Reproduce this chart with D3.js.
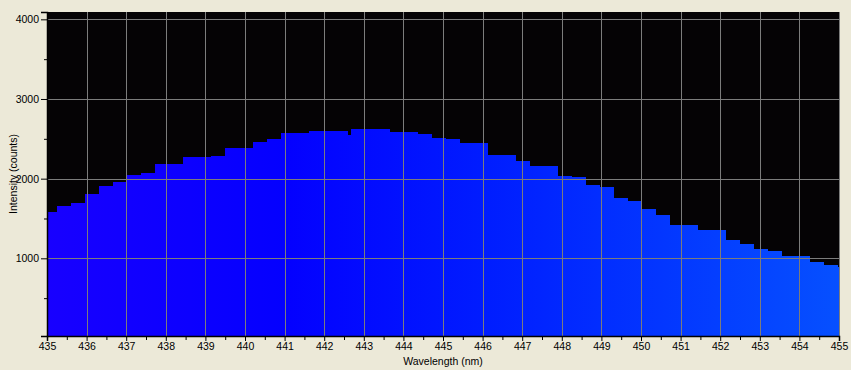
<!DOCTYPE html>
<html>
<head>
<meta charset="utf-8">
<script src="https://cdn.jsdelivr.net/npm/d3@7"></script>
<style>
  body { margin: 0; background: #ece9d8; }
  svg { display: block; }
  text { font-family: "Liberation Sans", Arial, sans-serif; font-size: 10.5px; fill: #000; }
</style>
</head>
<body>
<div id="chart"></div>
<script>
	// left edge (nm) of each spectrometer step
	var wavelengths = [435.00, 435.25, 435.61, 435.96, 436.31, 436.67, 437.02, 437.37, 437.73, 438.08,
		438.43, 438.79, 439.14, 439.49, 439.85, 440.20, 440.56, 440.91, 441.26, 441.62,
		441.97, 442.32, 442.60, 442.68, 443.03, 443.38, 443.66, 444.02, 444.37, 444.72,
		445.08, 445.43, 445.78, 446.14, 446.49, 446.84, 447.20, 447.55, 447.90, 448.26,
		448.61, 448.96, 449.32, 449.67, 450.03, 450.38, 450.73, 451.09, 451.44, 451.79,
		452.15, 452.50, 452.85, 453.21, 453.56, 453.91, 454.27, 454.62, 454.97];
	// intensity (counts) of each step
	var intensities = [1585, 1657, 1694, 1811, 1912, 1962, 2046, 2075, 2188, 2186,
		2276, 2276, 2288, 2389, 2389, 2460, 2498, 2573, 2573, 2598,
		2598, 2598, 2548, 2623, 2623, 2623, 2586, 2586, 2560, 2510,
		2498, 2448, 2448, 2297, 2297, 2222, 2159, 2159, 2033, 2021,
		1920, 1895, 1757, 1720, 1619, 1544, 1418, 1418, 1355, 1355,
		1230, 1180, 1117, 1092, 1029, 1029, 954, 916, 887];

	var xTicks = d3.range(435, 456, 1);
	var xMinorTicks = d3.range(435.5, 455, 1);
	var yTicks = [1000, 2000, 3000, 4000];
	var yMinorTicks = [500, 1500, 2500, 3500];

	var width = 851, height = 370;
	var margin = {top: 12, right: 12, bottom: 34, left: 47};
	var plotW = width - margin.left - margin.right,   // 792
		plotH = height - margin.top - margin.bottom;  // 324

	var svg = d3.select("#chart").append("svg")
		.attr("width", width)
		.attr("height", height);

	var g = svg.append("g")
		.attr("transform", "translate(" + margin.left + "," + margin.top + ")");

	var x = d3.scaleLinear().domain([435, 455]).range([0, plotW]);
	var y = d3.scaleLinear().domain([25, 4092]).range([plotH, 0]);

	var bars = wavelengths.map(function(w, i) {
		return {
			x0: w,
			x1: i < wavelengths.length - 1 ? wavelengths[i + 1] : 455,
			value: intensities[i]
		};
	});

	//spectrum colouring across the wavelength range
	var defs = svg.append("defs");
	var grad = defs.append("linearGradient")
		.attr("id", "spectrum")
		.attr("gradientUnits", "userSpaceOnUse")
		.attr("x1", x(435)).attr("x2", x(455))
		.attr("y1", 0).attr("y2", 0);
	grad.append("stop").attr("offset", "0%").attr("stop-color", "#1800ff");
	grad.append("stop").attr("offset", "30%").attr("stop-color", "#0400ff");
	grad.append("stop").attr("offset", "55%").attr("stop-color", "#001cff");
	grad.append("stop").attr("offset", "100%").attr("stop-color", "#0650ff");

	defs.append("clipPath").attr("id", "plot-clip")
		.append("rect").attr("width", plotW).attr("height", plotH);

	//black plot background
	g.append("rect")
		.attr("width", plotW)
		.attr("height", plotH)
		.style("fill", "#050305");

	//the steps
	g.append("g")
		.attr("clip-path", "url(#plot-clip)")
		.selectAll("rect")
		.data(bars)
		.enter().append("rect")
		.attr("x", function(d) { return x(d.x0); })
		.attr("width", function(d) { return x(d.x1) - x(d.x0); })
		.attr("y", function(d) { return y(d.value); })
		.attr("height", function(d) { return plotH - y(d.value); })
		.attr("shape-rendering", "crispEdges")
		.style("fill", "url(#spectrum)");

	//grid on top of the bars
	var grid = g.append("g").attr("class", "grid");
	grid.selectAll(".vgrid")
		.data(xTicks.slice(1))
		.enter().append("line")
		.attr("x1", function(d) { return Math.round(x(d)) + 0.5; })
		.attr("x2", function(d) { return Math.round(x(d)) + 0.5; })
		.attr("y1", 0)
		.attr("y2", plotH)
		.style("stroke", "#7c7c7c");
	grid.selectAll(".hgrid")
		.data(yTicks)
		.enter().append("line")
		.attr("x1", 0)
		.attr("x2", plotW + 1)
		.attr("y1", function(d) { return Math.round(y(d)) + 0.5; })
		.attr("y2", function(d) { return Math.round(y(d)) + 0.5; })
		.style("stroke", "#7c7c7c");

	//x axis
	g.append("g")
		.attr("transform", "translate(0," + plotH + ")")
		.call(d3.axisBottom(x).tickValues(xTicks).tickSize(5).tickPadding(2).tickFormat(d3.format("d")));
	g.append("g")
		.attr("transform", "translate(0," + plotH + ")")
		.call(d3.axisBottom(x).tickValues(xMinorTicks).tickSize(4).tickFormat(""))
		.select(".domain").remove();

	//y axis
	g.append("g")
		.call(d3.axisLeft(y).tickValues(yTicks).tickSize(6).tickPadding(2).tickFormat(d3.format("d")));
	g.append("g")
		.call(d3.axisLeft(y).tickValues(yMinorTicks).tickSize(3).tickFormat(""))
		.select(".domain").remove();

	svg.selectAll(".domain").attr("stroke", "#000").attr("stroke-width", 1.5);
	svg.selectAll(".tick line").attr("stroke", "#000");
	svg.selectAll(".tick text")
		.style("font-family", "'Liberation Sans', Arial, sans-serif")
		.style("font-size", "10.5px")
		.style("fill", "#000");

	//axis titles
	svg.append("text")
		.attr("x", margin.left + plotW / 2)
		.attr("y", 365)
		.attr("text-anchor", "middle")
		.text("Wavelength (nm)");
	svg.append("text")
		.attr("transform", "translate(17," + (margin.top + plotH / 2) + ") rotate(-90)")
		.attr("text-anchor", "middle")
		.text("Intensity (counts)");
</script>
</body>
</html>
